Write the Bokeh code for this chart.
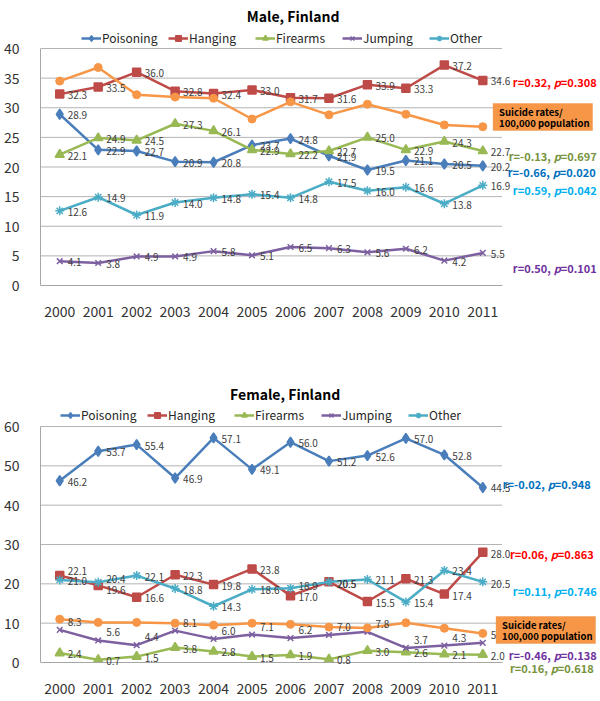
from bokeh.plotting import figure
from bokeh.models import (Range1d, FixedTicker, Label, LabelSet, Legend, LegendItem,
                          ColumnDataSource, BoxAnnotation)
from bokeh.layouts import column
from bokeh.embed import file_html
from bokeh.resources import INLINE
from bokeh.core.properties import value

# ---------------- data ----------------
years = list(range(2000, 2012))
series_names = ["Poisoning", "Hanging", "Firearms", "Jumping", "Other"]

male_poisoning = [28.9, 22.9, 22.7, 20.9, 20.8, 23.7, 24.8, 21.9, 19.5, 21.1, 20.5, 20.2]
male_hanging = [32.3, 33.5, 36.0, 32.8, 32.4, 33.0, 31.7, 31.6, 33.9, 33.3, 37.2, 34.6]
male_firearms = [22.1, 24.9, 24.5, 27.3, 26.1, 22.9, 22.2, 22.7, 25.0, 22.9, 24.3, 22.7]
male_jumping = [4.1, 3.8, 4.9, 4.9, 5.8, 5.1, 6.5, 6.3, 5.6, 6.2, 4.2, 5.5]
male_other = [12.6, 14.9, 11.9, 14.0, 14.8, 15.4, 14.8, 17.5, 16.0, 16.6, 13.8, 16.9]
male_total = [34.5, 36.8, 32.2, 31.8, 31.6, 28.1, 31.0, 28.8, 30.6, 28.9, 27.1, 26.8]

female_poisoning = [46.2, 53.7, 55.4, 46.9, 57.1, 49.1, 56.0, 51.2, 52.6, 57.0, 52.8, 44.5]
female_hanging = [22.1, 19.6, 16.6, 22.3, 19.8, 23.8, 17.0, 20.5, 15.5, 21.3, 17.4, 28.0]
female_firearms = [2.4, 0.7, 1.5, 3.8, 2.8, 1.5, 1.9, 0.8, 3.0, 2.6, 2.1, 2.0]
female_jumping = [8.3, 5.6, 4.4, 8.1, 6.0, 7.1, 6.2, 7.0, 7.8, 3.7, 4.3, 5.0]
female_other = [21.0, 20.4, 22.1, 18.8, 14.3, 18.6, 18.9, 20.5, 21.1, 15.4, 23.4, 20.5]
female_total = [11.0, 10.2, 10.2, 10.0, 9.5, 10.0, 9.7, 9.0, 8.8, 10.1, 8.7, 7.4]

# correlation annotations (r, p) per series
male_r = {"Hanging": "0.32", "Firearms": "-0.13", "Poisoning": "-0.66", "Other": "0.59", "Jumping": "0.50"}
male_p = {"Hanging": "0.308", "Firearms": "0.697", "Poisoning": "0.020", "Other": "0.042", "Jumping": "0.101"}
female_r = {"Poisoning": "-0.02", "Hanging": "0.06", "Other": "0.11", "Jumping": "-0.46", "Firearms": "0.16"}
female_p = {"Poisoning": "0.948", "Hanging": "0.863", "Other": "0.746", "Jumping": "0.138", "Firearms": "0.618"}

total_label = "Suicide rates/\n100,000 population"

# ---------------- styles / layout ----------------
FONT = "Noto Sans CJK KR"
W = 600
FL, FR = 37, 501  # image x of chart area
CW = (FR - FL) / 12.0

styles = {
    "Poisoning": dict(color="#4A7EBB", marker="diamond", size=10),
    "Hanging": dict(color="#BE4B48", marker="square", size=8),
    "Firearms": dict(color="#98B954", marker="triangle", size=9),
    "Jumping": dict(color="#7D60A0", marker="x", size=8),
    "Other": dict(color="#4BACC6", marker="asterisk", size=9),
}
TOTAL_COLOR = "#F79646"
GRID_COLOR = "#B3B3B3"
annot_colors = {"Poisoning": "#0070C0", "Hanging": "#FF0000", "Firearms": "#77933C",
                "Jumping": "#7030A0", "Other": "#00B0F0"}


def to_x(img_x):
    return 1999.5 + (img_x - FL) / CW


def make_chart(title, data, total, rv, pv, ymax, ystep, top_img, height, ft_img, fb_img,
               title_pos, legend_left, legend_cy, annot_pos, box, label_dy):
    def to_y(img_y):
        return (fb_img - img_y) * ymax / (fb_img - ft_img)

    p = figure(width=W, height=height,
               x_range=Range1d(1999.5, to_x(W)),
               y_range=Range1d(to_y(top_img + height), to_y(top_img)),
               output_backend="svg", toolbar_location=None,
               min_border_left=FL, min_border_right=0,
               min_border_top=0, min_border_bottom=0)
    p.outline_line_color = None
    p.background_fill_color = "white"
    p.border_fill_color = "white"

    yt = list(range(0, ymax + 1, ystep))
    p.yaxis.ticker = FixedTicker(ticks=yt)
    p.yaxis.bounds = (0, ymax)
    p.xaxis.ticker = FixedTicker(ticks=years)
    p.xaxis.bounds = (1999.5, 2011.5)
    p.xaxis.fixed_location = 0
    p.xaxis.major_label_overrides = {y: str(y) for y in years}
    for ax in (p.xaxis[0], p.yaxis[0]):
        ax.axis_line_color = "#A6A6A6"
        ax.major_tick_line_color = None
        ax.minor_tick_line_color = None
        ax.major_label_text_font = FONT
        ax.major_label_text_font_size = "14px"
        ax.major_label_text_color = "#333333"
    p.yaxis.major_label_standoff = 15
    p.xaxis.major_label_standoff = 14
    p.xgrid.visible = False
    p.ygrid.visible = False

    # horizontal gridlines limited to the chart area
    gy = yt[1:]
    p.segment(x0=[1999.5] * len(gy), x1=[2011.5] * len(gy), y0=gy, y1=gy,
              line_color=GRID_COLOR, line_width=1)

    items = []
    for name in series_names:
        st = styles[name]
        vals = data[name]
        src = ColumnDataSource(dict(x=years, y=vals, t=["%.1f" % v for v in vals],
                                    dy=label_dy.get(name, [-1] * 12)))
        lr = p.line("x", "y", source=src, line_color=st["color"], line_width=2.5)
        sr = p.scatter("x", "y", source=src, marker=st["marker"], size=st["size"],
                       fill_color=st["color"], line_color=st["color"], line_width=1.5)
        items.append(LegendItem(label=name, renderers=[lr, sr]))
        ls = LabelSet(x="x", y="y", text="t", source=src, x_offset=8, y_offset="dy",
                      text_font=value(FONT), text_font_size="10px", text_color="#404040",
                      text_baseline="middle", text_align="left")
        p.add_layout(ls)

    tsrc = ColumnDataSource(dict(x=years, y=total))
    p.line("x", "y", source=tsrc, line_color=TOTAL_COLOR, line_width=2.5)
    p.scatter("x", "y", source=tsrc, marker="circle", size=8, fill_color=TOTAL_COLOR,
              line_color=TOTAL_COLOR)

    fb_canvas = top_img + height
    leg = Legend(items=items, orientation="horizontal",
                 location=(legend_left - FL, fb_canvas - legend_cy - 8),
                 glyph_width=20, glyph_height=14, label_standoff=1, spacing=0,
                 label_width=66,
                 padding=0, margin=0, border_line_color=None, background_fill_alpha=0,
                 label_text_font=FONT, label_text_font_size="12px",
                 label_text_color="#262626", label_height=14)
    p.add_layout(leg)

    p.add_layout(Label(x=to_x(title_pos[0]), y=to_y(title_pos[1]), text=title,
                       text_font=FONT, text_font_size="14px", text_font_style="bold",
                       text_align="center", text_baseline="middle", text_color="black"))

    for name, (rx, cy) in annot_pos.items():
        col = annot_colors[name]
        xp = rx - 32 - 7
        common = dict(y=to_y(cy), text_font=FONT, text_font_size="11px",
                      text_baseline="middle", text_color=col)
        p.add_layout(Label(x=to_x(xp - 3), text="r=%s," % rv[name], text_align="right",
                           text_font_style="bold", **common))
        p.add_layout(Label(x=to_x(xp), text="p", text_align="left",
                           text_font_style="bold italic", **common))
        p.add_layout(Label(x=to_x(xp + 7), text="=%s" % pv[name], text_align="left",
                           text_font_style="bold", **common))

    bx0, by0, bx1, by1 = box
    p.add_layout(BoxAnnotation(left=to_x(bx0), right=to_x(bx1), top=to_y(by0), bottom=to_y(by1),
                               fill_color=TOTAL_COLOR, fill_alpha=1.0,
                               line_color="#E0802F", line_width=1, level="overlay"))
    lines = total_label.split("\n")
    lh = (by1 - by0) / 2.0 - 2.5
    for i, ln in enumerate(lines):
        cy = (by0 + by1) / 2.0 + (i - 0.5) * lh
        p.add_layout(Label(x=to_x(bx0 + 6), y=to_y(cy), text=ln, text_font=FONT,
                           text_font_size="9.5px", text_font_style="bold",
                           text_align="left", text_baseline="middle", text_color="black",
                           level="overlay"))
    return p


male_data = dict(Poisoning=male_poisoning, Hanging=male_hanging, Firearms=male_firearms,
                 Jumping=male_jumping, Other=male_other)
female_data = dict(Poisoning=female_poisoning, Hanging=female_hanging, Firearms=female_firearms,
                   Jumping=female_jumping, Other=female_other)

H1, H2 = 335, 362
p1 = make_chart("Male, Finland", male_data, male_total, male_r, male_p, 40, 5,
                0, H1, 48, 285, (291, 15), 78, 38,
                {"Hanging": (592, 81), "Firearms": (592, 155), "Poisoning": (591, 171),
                 "Other": (592, 189), "Jumping": (592, 267)},
                (492, 103, 592, 130), {})

female_dy = {
    "Jumping": [8] * 12,
    "Hanging": [5, -5, -1, -1, -1, -1, -1, -2, -1, -1, -2, -2],
    "Other": [-1, 3, -1, -1, -1, -1, 2, -2, 0, -1, -1, -2],
}
p2 = make_chart("Female, Finland", female_data, female_total, female_r, female_p, 60, 10,
                H1, H2, 426, 662, (283, 393), 57, 415,
                {"Poisoning": (586, 483), "Hanging": (589, 553), "Other": (592, 590),
                 "Jumping": (592, 654), "Firearms": (589, 667)},
                (495, 616, 595, 643), female_dy)

layout = column(p1, p2, spacing=0)
open("out.html", "w").write(file_html(layout, INLINE))
